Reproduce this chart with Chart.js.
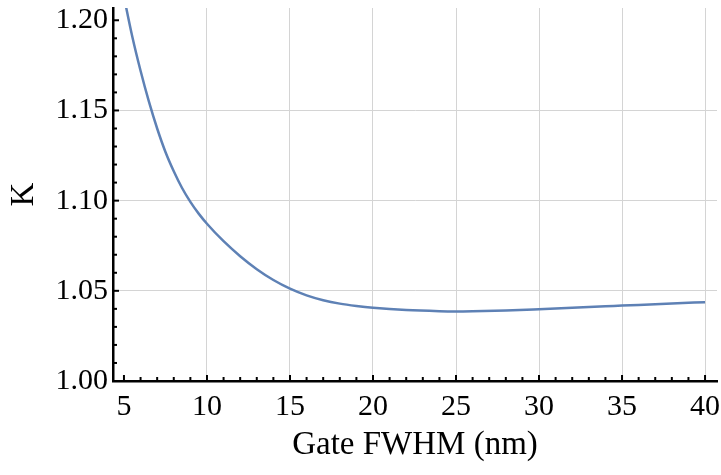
<!DOCTYPE html>
<html>
<head>
<meta charset="utf-8">
<script src="https://cdn.jsdelivr.net/npm/chart.js@4.4.1/dist/chart.umd.min.js"></script>
<style>
  html, body { margin: 0; padding: 0; background: #fff; }
  #box { width: 721px; height: 475px; }
</style>
</head>
<body>
<div id="box"><canvas id="MyChart"></canvas></div>
<script>
// values
const gateFwhm = [5, 5.5, 6, 6.5, 7, 7.5, 8, 8.5, 9, 9.5, 10, 11, 12, 13, 14, 15, 16, 17, 18, 19, 20, 22, 24, 25, 26, 28, 30, 32, 34, 35, 36, 38, 40];
const kValues = [1.213, 1.191, 1.172, 1.155, 1.140, 1.127, 1.1163, 1.1070, 1.0993, 1.0928, 1.0872, 1.0775, 1.0692, 1.0620, 1.0560, 1.0512, 1.0475, 1.0448, 1.0429, 1.0416, 1.0406, 1.0393, 1.0387, 1.0386, 1.0387, 1.0391, 1.0398, 1.0406, 1.0414, 1.0418, 1.0422, 1.0430, 1.0437];

const xTicks = [5, 10, 15, 20, 25, 30, 35, 40];
const yTicks = [1.00, 1.05, 1.10, 1.15, 1.20];

const serif = "'Liberation Serif', 'DejaVu Serif', serif";

const points = gateFwhm.map((x, i) => ({x: x, y: kValues[i]}));

const isMajorX = v => Math.abs(v % 5) < 1e-6;
const isMajorY = v => yTicks.some(t => Math.abs(t - v) < 1e-6);

// inward tick marks like the original
const tickMarks = {
    id: 'tickMarks',
    afterDraw(chart){
        const ctx = chart.ctx;
        const x = chart.scales.x;
        const y = chart.scales.y;
        const area = chart.chartArea;
        ctx.save();
        ctx.strokeStyle = '#000';
        ctx.lineWidth = 2;
        x.ticks.forEach(t => {
            const px = x.getPixelForValue(t.value);
            const len = isMajorX(t.value) ? 6 : 4;
            ctx.beginPath();
            ctx.moveTo(px, area.bottom);
            ctx.lineTo(px, area.bottom - len);
            ctx.stroke();
        });
        y.ticks.forEach(t => {
            const py = y.getPixelForValue(t.value);
            const len = isMajorY(t.value) ? 6 : 4;
            ctx.beginPath();
            ctx.moveTo(area.left, py);
            ctx.lineTo(area.left + len, py);
            ctx.stroke();
        });
        ctx.restore();
    }
};

const ctx = document.getElementById('MyChart').getContext('2d');
let myChart = new Chart(ctx, {
    type: 'line',
    data: {
        datasets: [{
            data: points,
            borderColor: '#5E81B5',
            borderWidth: 2.5,
            pointRadius: 0,
            cubicInterpolationMode: 'monotone',
            fill: false
        }]
    },
    options: {
        responsive: true,
        maintainAspectRatio: false,
        animation: false,
        layout: { padding: { top: 8, right: 4, left: 0, bottom: 0 } },
        plugins: { legend: { display: false }, tooltip: { enabled: false } },
        scales: {
            x: {
                type: 'linear',
                min: 4.34,
                max: 40.72,
                afterBuildTicks: (scale) => {
                    const t = [];
                    for (let v = 5; v <= 40; v++) t.push({value: v});
                    scale.ticks = t;
                },
                afterFit: (scale) => {
                    scale.height = 94;
                    scale.paddingLeft = 0;
                    scale.paddingRight = 0;
                },
                ticks: {
                    autoSkip: false,
                    maxRotation: 0,
                    padding: 8,
                    color: '#000',
                    font: { family: serif, size: 30 },
                    callback: (v) => xTicks.includes(v) ? String(v) : ''
                },
                grid: {
                    drawTicks: false,
                    lineWidth: 1,
                    color: (c) => (c.tick && isMajorX(c.tick.value) && c.tick.value > 5) ? '#d4d4d4' : 'rgba(0,0,0,0)'
                },
                border: { display: true, color: '#000', width: 2.5 },
                title: {
                    display: true,
                    text: 'Gate FWHM (nm)',
                    color: '#000',
                    font: { family: serif, size: 33 },
                    padding: { top: 4, bottom: 10 }
                }
            },
            y: {
                type: 'linear',
                min: 1.0,
                max: 1.2068,
                afterBuildTicks: (scale) => {
                    const t = [];
                    for (let i = 0; i <= 20; i++) t.push({value: 1 + i / 100});
                    scale.ticks = t;
                },
                afterFit: (scale) => {
                    scale.width = 113;
                    scale.paddingTop = 0;
                    scale.paddingBottom = 0;
                },
                ticks: {
                    autoSkip: false,
                    padding: 5,
                    color: '#000',
                    font: { family: serif, size: 30 },
                    callback: (v) => isMajorY(v) ? v.toFixed(2) : ''
                },
                grid: {
                    drawTicks: false,
                    lineWidth: 1,
                    color: (c) => {
                        if (!c.tick) return 'rgba(0,0,0,0)';
                        const k = Math.round(c.tick.value * 100);
                        return (k === 105 || k === 110 || k === 115) ? '#d4d4d4' : 'rgba(0,0,0,0)';
                    }
                },
                border: { display: true, color: '#000', width: 2.5 },
                title: {
                    display: true,
                    text: 'K',
                    color: '#000',
                    font: { family: serif, size: 33 },
                    padding: { top: 5, bottom: 0 }
                }
            }
        }
    },
    plugins: [tickMarks]
});
</script>
</body>
</html>
